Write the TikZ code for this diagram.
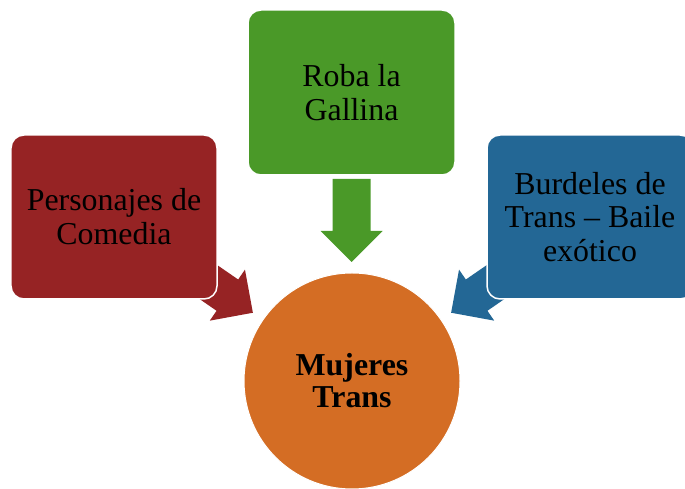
\documentclass[tikz,border=0pt]{standalone}
\usepackage{fontspec}
\setmainfont{Liberation Serif}
\usetikzlibrary{calc}
\definecolor{cred}{RGB}{150,35,36}
\definecolor{cgreen}{RGB}{74,153,40}
\definecolor{cblue}{RGB}{35,103,149}
\definecolor{corange}{RGB}{212,109,36}
\tikzset{
  box/.style={rectangle, rounded corners=13bp, draw=white, line width=1.5bp,
    minimum width=206bp, minimum height=164bp, align=center, inner sep=0pt,
    font=\fontsize{32}{34}\selectfont},
  blockarrow/.pic={\fill[pic actions] (0,-19) -- (52,-19) -- (52,-31) -- (83,0) -- (52,31) -- (52,19) -- (0,19) -- cycle;}
}
\begin{document}
\begin{tikzpicture}[x=1bp,y=1bp]
\useasboundingbox (0,0) rectangle (685,489);
\clip (0,0) rectangle (685,489);
\coordinate (redc) at (114,272);
\coordinate (greenc) at (351.5,396.5);
\coordinate (bluec) at (590,272);
\coordinate (circc) at (352,108);
% arrows (behind boxes)
\coordinate (ga) at ($(greenc)!86.5bp!(circc)$);
\coordinate (ra) at ($(redc)!85.7bp!(circc)$);
\coordinate (ba) at ($(bluec)!85.7bp!(circc)$);
\pic[fill=cgreen, rotate=-90] at (ga) {blockarrow};
\pic[fill=cred, rotate=-34.6] at (ra) {blockarrow};
\pic[fill=cblue, rotate=-145.4] at (ba) {blockarrow};
% boxes
\node[box, fill=cgreen, minimum width=207bp, minimum height=165bp] (green) at (greenc) {Roba la\\Gallina};
\node[box, fill=cred] (red) at (redc) {Personajes de\\Comedia};
\node[box, fill=cblue] (blue) at (bluec) {Burdeles de\\Trans – Baile\\exótico};
\node[circle, fill=corange, draw=white, line width=1bp, minimum size=216bp, inner sep=0pt, align=center,
  font=\fontsize{32}{32}\selectfont\bfseries] (circ) at (circc) {Mujeres\\Trans};
\end{tikzpicture}
\end{document}
